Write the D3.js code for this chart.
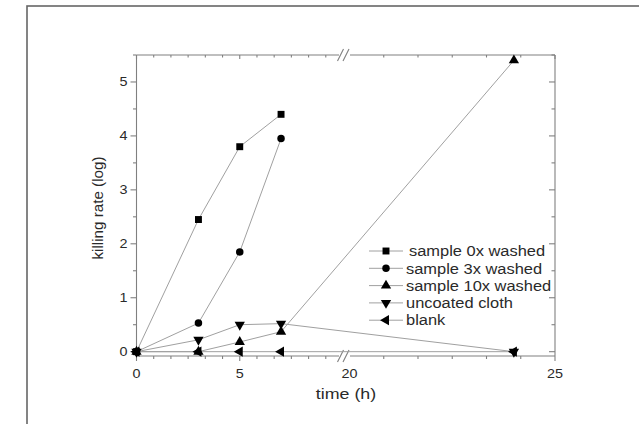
<!DOCTYPE html>
<html>
<head>
<meta charset="utf-8">
<script src="https://cdn.jsdelivr.net/npm/d3@7"></script>
<style>
  body { margin: 0; background: #fff; }
  svg { display: block; font-family: "Liberation Sans", Arial, sans-serif; }
</style>
</head>
<body>
<div class="js-chart"></div>
<script>
// values
const times = [0, 3, 5, 7, 24];
const seriesNames = ["sample 0x washed", "sample 3x washed", "sample 10x washed", "uncoated cloth", "blank"];
const washed0 = [0, 2.45, 3.8, 4.4, null];
const washed3 = [0, 0.53, 1.85, 3.95, null];
const washed10 = [0, 0, 0.18, 0.37, 5.4];
const uncoated = [0, 0.22, 0.5, 0.52, 0];
const blank = [0, 0, 0, 0, 0];
const xTickLabels = [0, 5, 20, 25];
const yTickLabels = [0, 1, 2, 3, 4, 5];

const width = 639
    , height = 424
    , sx = 1.15   // the picture is a bit stretched sideways
    ;

const svg = d3.select(".js-chart").append("svg")
  .attr("width", width)
  .attr("height", height);

// outer frame of the figure
svg.append("rect")
  .attr("x", 27).attr("y", 6)
  .attr("width", 660).attr("height", 460)
  .attr("fill", "none")
  .attr("stroke", "#666")
  .attr("stroke-width", 1.6);

// broken time axis: 0-10 | 20-25
const x = d3.scaleLinear()
  .domain([0, 10, 20, 25])
  .range([136.5, 343, 349.5, 555]);
const y = d3.scaleLinear()
  .domain([-0.08, 5.5])
  .range([356, 55]);

const x0 = 136.5, x1 = 555, y0 = 356, y1 = 55;
const axisColor = "#808080";

const minorX = d3.range(0, 10.01, 5 / 6).concat(d3.range(20, 25.01, 5 / 6));
const minorY = d3.range(0, 5.51, 0.5);

const axes = svg.append("g").attr("stroke", axisColor).attr("stroke-width", 1.1);

// axis lines, with gaps at the break
axes.append("line").attr("x1", x0).attr("x2", x0).attr("y1", y0).attr("y2", y1);
axes.append("line").attr("x1", x1).attr("x2", x1).attr("y1", y0).attr("y2", y1);
[y0, y1].forEach(yy => {
  axes.append("line").attr("x1", x0).attr("x2", 339).attr("y1", yy).attr("y2", yy);
  axes.append("line").attr("x1", 350).attr("x2", x1).attr("y1", yy).attr("y2", yy);
});

// bottom ticks (outward) and top ticks (inward)
minorX.forEach(v => {
  const major = xTickLabels.includes(+v.toFixed(3));
  const px = x(v);
  if (px > 337 && px < 352) return;
  axes.append("line").attr("x1", px).attr("x2", px)
    .attr("y1", y0).attr("y2", y0 + (major ? 5 : 3));
  axes.append("line").attr("x1", px).attr("x2", px)
    .attr("y1", y1).attr("y2", y1 + (major ? 4 : 2.5));
});

// left ticks (outward) and right ticks (inward)
minorY.forEach(v => {
  const major = Number.isInteger(v);
  axes.append("line").attr("x1", x0).attr("x2", x0 - (major ? 6 : 3.5))
    .attr("y1", y(v)).attr("y2", y(v));
  axes.append("line").attr("x1", x1).attr("x2", x1 - (major ? 6 : 3.5))
    .attr("y1", y(v)).attr("y2", y(v));
});

// break marks
[y0, y1].forEach(yy => {
  [340, 345.5].forEach(bx => {
    svg.append("line")
      .attr("x1", bx - 2.5).attr("y1", yy + 6)
      .attr("x2", bx + 3.5).attr("y2", yy - 6)
      .attr("stroke", axisColor).attr("stroke-width", 1.1);
  });
});

function hText(px, py, txt, size, anchor) {
  svg.append("text")
    .attr("transform", `translate(${px},${py}) scale(${sx},1)`)
    .attr("text-anchor", anchor || "start")
    .attr("font-size", size)
    .attr("fill", "#2a2a2a")
    .text(txt);
}

xTickLabels.forEach(v => hText(x(v), 377.5, v, 12.5, "middle"));
yTickLabels.forEach(v => hText(127.5, y(v) + 4.5, v, 12.5, "end"));

hText(346, 398.5, "time (h)", 15.5, "middle");

svg.append("text")
  .attr("transform", "translate(102.5,208) rotate(-90)")
  .attr("text-anchor", "middle")
  .attr("font-size", 15.2)
  .attr("fill", "#2a2a2a")
  .text("killing rate (log)");

// series
const series = [washed0, washed3, washed10, uncoated, blank];
const symbols = [
  { type: d3.symbolSquare, size: 48, rot: 0 },
  { type: d3.symbolCircle, size: 44, rot: 0 },
  { type: d3.symbolTriangle, size: 46, rot: 0 },
  { type: d3.symbolTriangle, size: 46, rot: 180 },
  { type: d3.symbolTriangle, size: 46, rot: -90 }
];

const line = d3.line()
  .x(d => x(d[0]))
  .y(d => y(d[1]));

const linesG = svg.append("g").attr("fill", "none")
  .attr("stroke", "#a0a0a0").attr("stroke-width", 1);
const marksG = svg.append("g").attr("fill", "#000");

const pointsOf = vals => times.map((t, j) => [t, vals[j]]).filter(d => d[1] != null);

series.forEach(vals => {
  linesG.append("path").attr("d", line(pointsOf(vals)));
});

series.forEach((vals, i) => {
  const sym = symbols[i];
  marksG.selectAll(null)
    .data(pointsOf(vals))
    .join("path")
    .attr("d", d3.symbol().type(sym.type).size(sym.size))
    .attr("transform", d => `translate(${x(d[0])},${y(d[1])}) rotate(${sym.rot})`);
});

// legend
const legendG = svg.append("g");
seriesNames.forEach((name, i) => {
  const ly = 251 + i * 17.3;
  legendG.append("line")
    .attr("x1", 369).attr("x2", 403)
    .attr("y1", ly).attr("y2", ly)
    .attr("stroke", "#a0a0a0").attr("stroke-width", 1);
  const sym = symbols[i];
  legendG.append("path")
    .attr("d", d3.symbol().type(sym.type).size(sym.size))
    .attr("transform", `translate(386,${ly}) rotate(${sym.rot})`)
    .attr("fill", "#000");
  hText(i === 0 ? 409 : 406, ly + 5.2, name, 14.3, "start");
});
</script>
</body>
</html>
